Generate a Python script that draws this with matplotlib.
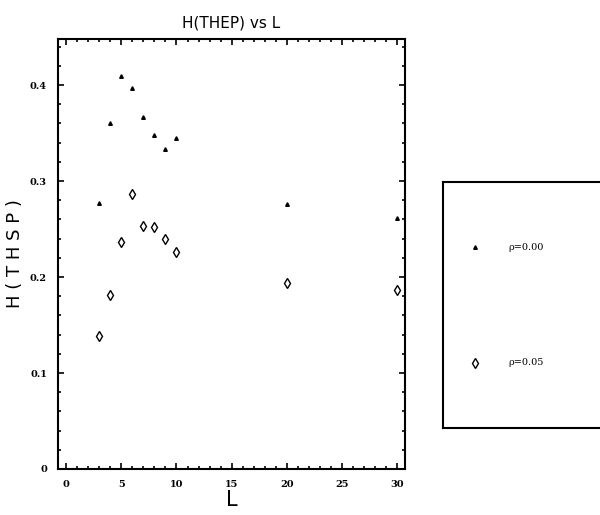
import numpy as np
import matplotlib
matplotlib.use("Agg")
import matplotlib.pyplot as plt
from matplotlib.ticker import MultipleLocator

# data
L_vals = [3, 4, 5, 6, 7, 8, 9, 10, 20, 30]
h_rho000 = [0.277, 0.361, 0.409, 0.397, 0.367, 0.348, 0.333, 0.345, 0.276, 0.262]
h_rho005 = [0.139, 0.181, 0.236, 0.287, 0.253, 0.252, 0.240, 0.226, 0.194, 0.186]
series_labels = ["\u03c1=0.00", "\u03c1=0.05"]

W, H = 600, 515
fig = plt.figure(figsize=(W / 100, H / 100), dpi=100, facecolor="white")

# main plot, placed in pixels
x0, x1, y0, y1 = 58, 405, 39, 469
ax = fig.add_axes([x0 / W, 1 - y1 / H, (x1 - x0) / W, (y1 - y0) / H])

s1 = dict(marker="^", ms=2.6, ls="none", color="black")
s2 = dict(marker="d", ms=5, ls="none", mfc="none", mec="black", mew=1.0)
ax.plot(L_vals, h_rho000, **s1)
ax.plot(L_vals, h_rho005, **s2)

ax.xaxis.set_major_locator(MultipleLocator(5))
ax.xaxis.set_minor_locator(MultipleLocator(1))
ax.yaxis.set_minor_locator(MultipleLocator(0.02))
ax.tick_params(which="both", direction="in", top=True, right=True, width=1.2)
ax.tick_params(which="major", length=4, labelsize=7, pad=8)
ax.tick_params(which="minor", length=2.5)
ax.set_xticks([0, 5, 10, 15, 20, 25, 30])
ax.set_xticklabels(["0", "5", "10", "15", "20", "25", "30"], family="DejaVu Serif",
                   fontweight="bold")
ax.set_yticks([0, 0.1, 0.2, 0.3, 0.4])
ax.set_yticklabels(["0", "0.1", "0.2", "0.3", "0.4"], family="DejaVu Serif",
                   fontweight="bold")
ax.set_xlim(-0.73, 30.7)
ax.set_ylim(0, 0.448)
for sp in ax.spines.values():
    sp.set_linewidth(1.5)

ax.set_title("H(THEP) vs L", fontsize=11, pad=8)
ax.set_xlabel("L", fontsize=15, labelpad=1)
ax.set_ylabel("H ( T H S P )", fontsize=13, labelpad=4)

# legend panel on the right, cut off by the figure edge
lx0, ly0, ly1 = 443, 182, 428
lax = fig.add_axes([lx0 / W, 1 - ly1 / H, (620 - lx0) / W, (ly1 - ly0) / H])
lax.set_xlim(0, 1)
lax.set_ylim(0, 1)
lax.set_xticks([])
lax.set_yticks([])
for sp in lax.spines.values():
    sp.set_linewidth(1.5)
for style, lab, yy in [(s1, series_labels[0], 0.735), (s2, series_labels[1], 0.265)]:
    lax.plot([0.18], [yy], transform=lax.transAxes, clip_on=False, **style)
    lax.text(0.37, yy, lab, fontsize=7, va="center", transform=lax.transAxes,
             family="DejaVu Serif")

fig.savefig("out.png", dpi=100)
